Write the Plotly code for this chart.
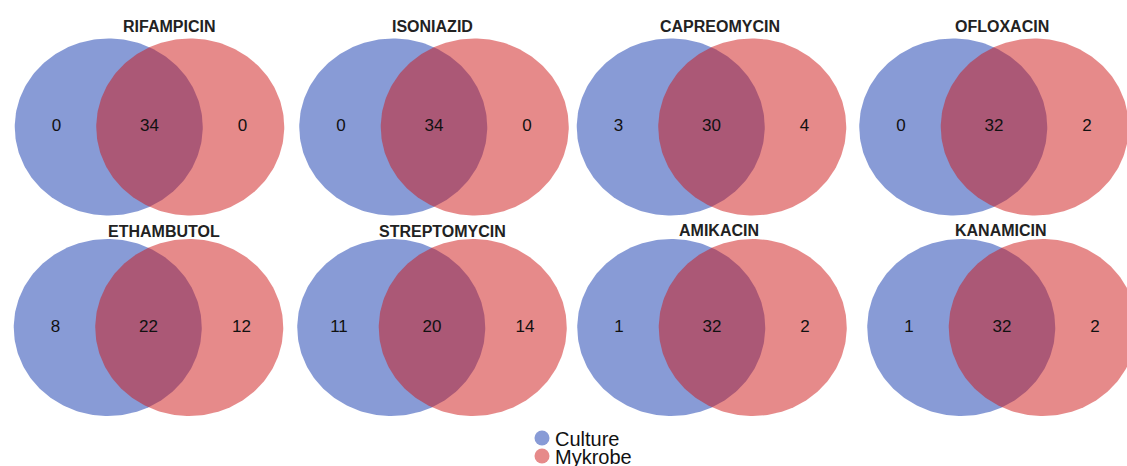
import numpy as np
import plotly.graph_objects as go

# ---- data -------------------------------------------------------------
drugs = ["RIFAMPICIN", "ISONIAZID", "CAPREOMYCIN", "OFLOXACIN",
         "ETHAMBUTOL", "STREPTOMYCIN", "AMIKACIN", "KANAMICIN"]
culture_only = [0, 0, 3, 0, 8, 11, 1, 1]
both = [34, 34, 30, 32, 22, 20, 32, 32]
mykrobe_only = [0, 0, 4, 2, 12, 14, 2, 2]
set_names = ["Culture", "Mykrobe"]

# ---- layout constants (pixels) -----------------------------------------
W, H = 1127, 466
panel_cx = [149.5, 434, 711.5, 994, 148.5, 432, 712, 1002]
panel_cy = [127, 127, 127, 127, 327.5, 327.5, 327.5, 327.5]
title_x = [169, 432, 720, 1002, 164, 442, 719, 1001]
title_y = [26, 27, 26, 26, 231, 231, 230, 230]
rx, ry = 94, 88.5          # ellipse radii
dx = 40.75                 # half distance between ellipse centres
label_dx = 93              # offset of the outer count labels
half_w, half_h = 140, 100

fills = ["rgba(17,55,173,0.5)", "rgba(205,21,21,0.5)"]

t = np.linspace(0, 2 * np.pi, 241)
fig = go.Figure()

for i, name in enumerate(drugs):
    k = i + 1
    xa = "x" if k == 1 else f"x{k}"
    ya = "y" if k == 1 else f"y{k}"
    cx, cy = panel_cx[i], panel_cy[i]

    # the two sets: Culture (left) then Mykrobe (right, drawn on top)
    for s, sx in enumerate([-dx, dx]):
        fig.add_trace(go.Scatter(
            x=sx + rx * np.cos(t), y=ry * np.sin(t),
            mode="lines", fill="toself", fillcolor=fills[s],
            line=dict(width=0), hoverinfo="skip", showlegend=False,
            xaxis=xa, yaxis=ya))

    counts = [culture_only[i], both[i], mykrobe_only[i]]
    fig.add_trace(go.Scatter(
        x=[-label_dx, 0, label_dx], y=[0, 0, 0], mode="text",
        text=[str(c) for c in counts], textposition="middle center",
        textfont=dict(family="Liberation Sans, Arial, sans-serif",
                      size=17, color="#111111"),
        hoverinfo="skip", showlegend=False, xaxis=xa, yaxis=ya))

    left = max(0.0, cx - half_w)
    right = min(W, cx + half_w)
    top, bottom = cy - half_h, cy + half_h
    ax_common = dict(visible=False, showgrid=False, zeroline=False, fixedrange=True)
    fig.layout[f"xaxis{'' if k == 1 else k}"] = dict(
        domain=[left / W, right / W], range=[left - cx, right - cx],
        anchor=ya, **ax_common)
    fig.layout[f"yaxis{'' if k == 1 else k}"] = dict(
        domain=[1 - bottom / H, 1 - top / H], range=[-half_h, half_h],
        anchor=xa, **ax_common)

    fig.add_annotation(
        x=title_x[i] / W, y=1 - title_y[i] / H, xref="paper", yref="paper",
        text=name, showarrow=False, xanchor="center", yanchor="middle",
        font=dict(family="Liberation Sans, Arial, sans-serif", size=16,
                  color="#222222", weight="bold"))

# ---- legend drawn on a full-figure pixel axis ---------------------------
legend_x = 542
legend_y = [438, 456]
fig.add_trace(go.Scatter(
    x=[legend_x, legend_x], y=legend_y, mode="markers",
    marker=dict(size=15, color=fills, line=dict(width=0)),
    text=set_names, hoverinfo="text", showlegend=False,
    xaxis="x9", yaxis="y9"))
for name, ly in zip(set_names, legend_y):
    fig.add_annotation(
        x=legend_x + 11, y=ly + 1, xref="x9", yref="y9", text=name,
        showarrow=False, xanchor="left", yanchor="middle",
        font=dict(family="Liberation Sans, Arial, sans-serif", size=20,
                  color="#111111"))
fig.layout["xaxis9"] = dict(domain=[0, 1], range=[0, W], visible=False,
                            fixedrange=True, anchor="y9")
fig.layout["yaxis9"] = dict(domain=[0, 1], range=[H, 0], visible=False,
                            fixedrange=True, anchor="x9")

fig.update_layout(
    width=W, height=H, margin=dict(l=0, r=0, t=0, b=0),
    paper_bgcolor="white", plot_bgcolor="rgba(0,0,0,0)",
    showlegend=False)

fig.write_html("out.html", config={"displayModeBar": False})
